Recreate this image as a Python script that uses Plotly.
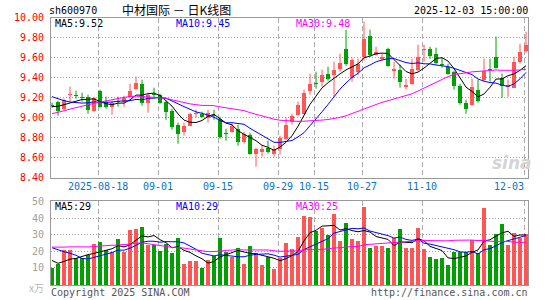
import numpy as np
import plotly.graph_objects as go

# ---------------- data ----------------
tick_labels = ["2025-08-18", "09-01", "09-15", "09-29", "10-15", "10-27", "11-10", "12-03"]
tick_index = [8, 18, 28, 38, 44, 52, 62, 79]

opens = [9.13, 9.16, 9.09, 9.23, 9.23, 9.21, 9.21, 9.07, 9.27, 9.16,
         9.11, 9.17, 9.16, 9.21, 9.29, 9.34, 9.15, 9.24, 9.23, 9.16,
         9.07, 8.93, 8.86, 8.92, 9.04, 9.04, 9.00, 9.03, 8.99, 8.85,
         8.86, 8.89, 8.76, 8.83, 8.64, 8.66, 8.70, 8.64, 8.69, 8.79,
         8.96, 9.03, 9.04, 9.27, 9.35, 9.36, 9.44, 9.43, 9.49, 9.69,
         9.40, 9.46, 9.61, 9.82, 9.63, 9.59, 9.69, 9.47, 9.48, 9.31,
         9.34, 9.48, 9.68, 9.69, 9.64, 9.54, 9.51, 9.46, 9.32, 9.15,
         9.13, 9.28, 9.38, 9.49, 9.61, 9.40, 9.31, 9.30, 9.56, 9.67]
highs = [9.15, 9.17, 9.19, 9.31, 9.27, 9.25, 9.23, 9.21, 9.28, 9.21,
         9.17, 9.21, 9.22, 9.34, 9.41, 9.38, 9.25, 9.30, 9.24, 9.17,
         9.09, 8.95, 8.95, 9.05, 9.08, 9.06, 9.08, 9.08, 9.01, 8.89,
         8.94, 8.93, 8.86, 8.85, 8.70, 8.73, 8.77, 8.72, 8.82, 9.00,
         9.04, 9.16, 9.28, 9.44, 9.46, 9.48, 9.51, 9.56, 9.64, 9.88,
         9.60, 9.59, 9.96, 9.88, 9.71, 9.64, 9.70, 9.56, 9.53, 9.39,
         9.59, 9.73, 9.73, 9.71, 9.70, 9.60, 9.54, 9.47, 9.34, 9.18,
         9.39, 9.38, 9.59, 9.59, 9.81, 9.44, 9.38, 9.61, 9.74, 9.86]
lows = [9.10, 9.02, 9.07, 9.16, 9.19, 9.16, 9.04, 9.06, 9.10, 9.09,
        9.03, 9.11, 9.11, 9.20, 9.28, 9.12, 9.05, 9.19, 9.14, 8.98,
        8.88, 8.74, 8.82, 8.92, 9.00, 9.00, 8.95, 8.98, 8.79, 8.77,
        8.85, 8.72, 8.74, 8.63, 8.51, 8.61, 8.64, 8.61, 8.63, 8.78,
        8.93, 9.02, 9.04, 9.23, 9.29, 9.31, 9.37, 9.21, 9.46, 9.52,
        9.36, 9.43, 9.57, 9.61, 9.62, 9.57, 9.51, 9.39, 9.30, 9.28,
        9.33, 9.46, 9.56, 9.59, 9.53, 9.50, 9.43, 9.28, 9.13, 9.04,
        9.12, 9.15, 9.36, 9.36, 9.49, 9.20, 9.21, 9.30, 9.54, 9.65]
closes = [9.12, 9.07, 9.18, 9.24, 9.22, 9.20, 9.08, 9.20, 9.11, 9.11,
          9.15, 9.16, 9.20, 9.27, 9.35, 9.15, 9.23, 9.23, 9.15, 9.06,
          8.91, 8.84, 8.92, 9.04, 9.05, 9.01, 9.05, 9.02, 8.81, 8.84,
          8.92, 8.76, 8.84, 8.64, 8.69, 8.69, 8.66, 8.69, 8.80, 8.93,
          9.02, 9.13, 9.25, 9.34, 9.34, 9.43, 9.39, 9.48, 9.55, 9.54,
          9.58, 9.54, 9.79, 9.63, 9.66, 9.61, 9.52, 9.49, 9.36, 9.33,
          9.49, 9.61, 9.69, 9.62, 9.55, 9.53, 9.44, 9.32, 9.15, 9.09,
          9.31, 9.17, 9.47, 9.48, 9.50, 9.32, 9.33, 9.56, 9.66, 9.73]
volumes = [9.7, 12.2, 20.4, 20.4, 15.4, 15.8, 17.5, 24.2, 25.5, 20.6,
           19.6, 27.4, 19.6, 32.6, 33.1, 34.3, 23.8, 23.8, 20.0, 24.2,
           18.5, 27.6, 12.2, 13.7, 13.7, 9.7, 14.3, 17.1, 27.6, 19.6,
           16.4, 21.7, 12.2, 23.2, 18.5, 11.6, 16.0, 9.1, 15.8, 24.8,
           21.0, 28.6, 41.3, 40.6, 32.2, 33.7, 29.5, 42.7, 26.3, 36.8,
           27.4, 25.9, 46.5, 21.7, 23.2, 22.7, 21.7, 27.6, 33.1, 21.7,
           21.7, 33.9, 21.3, 16.0, 14.9, 15.8, 11.6, 19.2, 19.6, 19.3,
           26.7, 18.9, 46.3, 23.6, 30.5, 36.6, 23.6, 30.9, 27.8, 30.5]

# sessions before the visible window (estimated from the starting levels of the MA lines)
pre_closes = [8.70, 8.68, 8.72, 8.75, 8.71, 8.74, 8.78, 8.76, 8.73, 8.77,
              8.80, 8.88, 9.05, 9.18, 9.30, 9.35, 9.28, 9.22, 9.31, 9.39,
              9.28, 9.36, 9.38, 9.29, 9.24, 9.05, 9.10, 9.16, 9.12]
pre_volumes = [18, 16, 15, 19, 17, 14, 16, 18, 15, 17,
               16, 19, 17, 16, 30, 38, 42, 35, 40, 36,
               26, 31, 29.4, 28, 35.1, 20.7, 14.5, 13.8, 12.8]

ma_periods = [5, 10, 30]
ma_colors = ["#000000", "#0000ff", "#ff00ff"]

# ---------------- helpers ----------------
RED = "#ff5555"
GREEN = "#00a000"
n = len(closes)
x = list(range(n))


def moving_avg(pre, vals, p):
    allv = np.array(pre + vals, dtype=float)
    off = len(pre)
    return [float(allv[off + i - p + 1: off + i + 1].mean()) for i in range(len(vals))]


up = [c >= o for o, c in zip(opens, closes)]

fig = go.Figure()

# candle wicks and bodies
for flag, col in [(True, RED), (False, GREEN)]:
    wx, wy = [], []
    bx, bbase, bh = [], [], []
    for i in range(n):
        if up[i] != flag:
            continue
        wx += [i, i, None]
        wy += [lows[i], highs[i], None]
        bx.append(i)
        lo = min(opens[i], closes[i])
        bbase.append(lo)
        bh.append(max(abs(closes[i] - opens[i]), 0.009))
    fig.add_trace(go.Scatter(x=wx, y=wy, mode="lines", line=dict(color=col, width=1),
                             xaxis="x", yaxis="y", hoverinfo="skip"))
    fig.add_trace(go.Bar(x=bx, y=bh, base=bbase, width=0.78, marker=dict(color=col, line=dict(width=0)),
                         xaxis="x", yaxis="y"))

# price MAs
price_ma = {}
for p, col in zip(ma_periods, ma_colors):
    m = moving_avg(pre_closes, closes, p)
    price_ma[p] = m
    fig.add_trace(go.Scatter(x=x, y=m, mode="lines", line=dict(color=col, width=1),
                             xaxis="x", yaxis="y"))

# volume bars
VMIN, VMAX = -0.8, 50.4
for flag, col in [(True, RED), (False, GREEN)]:
    vx = [i for i in range(n) if up[i] == flag]
    vy = [volumes[i] - VMIN for i in vx]
    fig.add_trace(go.Bar(x=vx, y=vy, base=VMIN, width=0.82, marker=dict(color=col, line=dict(width=0)),
                         xaxis="x2", yaxis="y2"))

vol_ma = {}
for p, col in zip(ma_periods, ma_colors):
    m = moving_avg(pre_volumes, volumes, p)
    vol_ma[p] = m
    fig.add_trace(go.Scatter(x=x, y=m, mode="lines", line=dict(color=col, width=1),
                             xaxis="x2", yaxis="y2"))

# ---------------- layout ----------------
W, H = 545, 300
X0, X1 = 51, 528
def px(v):
    return v / W
def py(v):
    return (H - v) / H

grid_x = [i - 0.33 for i in tick_index]
xr = [-0.17, 79.33]
mono = "DejaVu Sans Mono"
axis_common = dict(showline=True, mirror=True, linecolor="#999999", linewidth=1,
                   zeroline=False, automargin=False, fixedrange=True)

fig.update_layout(
    width=W, height=H, margin=dict(l=0, r=0, t=0, b=0),
    paper_bgcolor="white", plot_bgcolor="white",
    showlegend=False, barmode="overlay", bargap=0,
    xaxis=dict(domain=[px(X0), px(X1)], range=xr, tickvals=grid_x, showticklabels=False,
               showgrid=True, gridcolor="#aaaaaa", griddash="5px,3px", gridwidth=1,
               ticks="", anchor="y", **axis_common),
    yaxis=dict(domain=[py(177.7), py(17.7)], range=[8.4, 10.0],
               tickvals=[8.4 + 0.2 * k for k in range(9)],
               ticktext=["%.2f" % (8.4 + 0.2 * k) for k in range(9)],
               tickfont=dict(family=mono, size=10, color="#ff0000"),
               showgrid=True, gridcolor="#a0a0a0", griddash="1px,2px", gridwidth=1,
               ticks="", ticklabelstandoff=4, anchor="x", **axis_common),
    xaxis2=dict(domain=[px(X0), px(X1)], range=xr, tickvals=grid_x, showticklabels=False,
                showgrid=True, gridcolor="#aaaaaa", griddash="5px,3px", gridwidth=1,
                ticks="", anchor="y2", **axis_common),
    yaxis2=dict(domain=[py(285.3), py(201.3)], range=[VMIN, VMAX],
                tickvals=[10, 20, 30, 40, 50],
                tickfont=dict(family=mono, size=10, color="#a0a0a0"),
                showgrid=True, gridcolor="#a0a0a0", griddash="1px,2px", gridwidth=1,
                ticks="", ticklabelstandoff=4, anchor="x2", **axis_common),
)

ann = []
def text(t, xpx, ypx, anchor="left", size=10, color="#000000", family=mono, **kw):
    ann.append(dict(text=t, x=px(xpx), y=py(ypx), xref="paper", yref="paper",
                    xanchor=anchor, yanchor="middle", showarrow=False,
                    font=dict(family=family, size=size, color=color), borderpad=0, **kw))

# date labels under the price panel
for lbl, gx in zip(tick_labels, grid_x):
    xpix = X0 + (gx - xr[0]) / (xr[1] - xr[0]) * (X1 - X0)
    is_last = lbl == tick_labels[-1]
    text(lbl, xpix + (1 if is_last else 0), 186, anchor="right" if is_last else "center", color="#0a74c4")

# header
text("sh600970", 48, 11)
text("中材国际 － 日K线图", 176, 9.5, anchor="center", size=12, family="Noto Sans CJK SC")
text("2025-12-03 15:00:00", 529, 11)
ann[-1]["xanchor"] = "right"

# MA legends
last = n - 1
text("MA5:%.2f" % price_ma[5][last], 54, 24, color=ma_colors[0])
text("MA10:%.2f" % price_ma[10][last], 174.5, 24, color=ma_colors[1])
text("MA30:%.2f" % price_ma[30][last], 294.5, 24, color=ma_colors[2])
text("MA5:%d" % int(vol_ma[5][last]), 54, 206, color=ma_colors[0])
text("MA10:%d" % int(vol_ma[10][last]), 174.5, 206, color=ma_colors[1])
text("MA30:%d" % int(vol_ma[30][last]), 294.5, 206, color=ma_colors[2])

# footer
text("x万", 28, 287, color="#b8b8b8", family="Noto Sans CJK SC", size=10)
text("Copyright 2025 SINA.COM", 49.5, 292.5, color="#555555")
text("http://finance.sina.com.cn", 529, 292.5, anchor="right", color="#555555")

# watermark
text("<b><i>sina</i></b>", 512, 163, anchor="center", size=17, color="#d4d4d4", family="DejaVu Sans")

fig.update_layout(annotations=ann)
fig.write_html("out.html")
